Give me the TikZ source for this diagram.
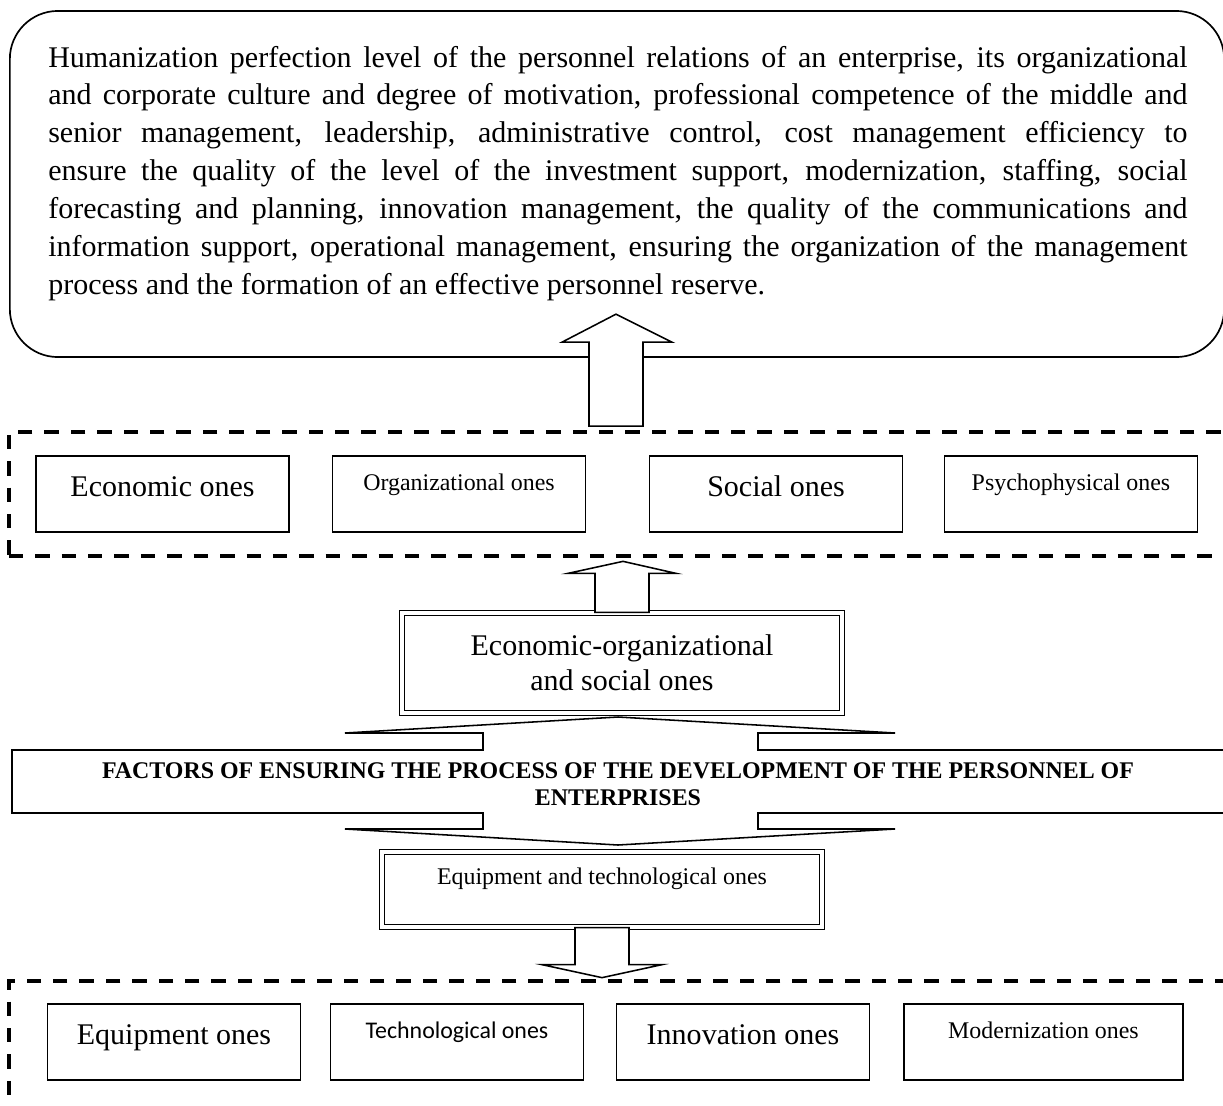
\documentclass[tikz,border=0pt]{standalone}
\usepackage{fontspec}
\setmainfont{Liberation Serif}
\newfontfamily\calibri{Carlito}
\newcommand\grand{\fontsize{21.34}{27}\selectfont}
\newcommand\grandbis{\fontsize{21.34}{24.9}\selectfont}
\newcommand\petite{\fontsize{17}{19.5}\selectfont}

\begin{document}
\begin{tikzpicture}[x=0.025cm, y=-0.025cm,
  every node/.style={inner sep=0pt},%
  facteur/.style={draw, line width=1.1pt, minimum width=6.325cm, minimum height=1.9cm,
    text height=1cm, text depth=0.9cm, font=\grand},%case d'un facteur
  petit/.style={text height=0.85cm, text depth=1.05cm, font=\petite},%texte plus petit
  double cadre/.style={draw, double, double distance=2.4pt, line width=0.9pt},%
  cadre/.style={draw, dash pattern=on 0.36cm off 0.3cm, line width=2.6pt, minimum width=30.425cm},%
  fleche/.style={draw, fill=white, line width=1.1pt}]%fleches pleines
  \useasboundingbox (0,0) rectangle (1223,1105);

  \node[draw, line width=1.2pt, rounded corners=1.2cm, minimum width=30.35cm,
    minimum height=8.65cm] (haut) at (617,184) {};
  \node[anchor=base west, text width=28.475cm, align=justify, font=\grand] (texte) at (48,67)
    {Humanization perfection level of the personnel relations of an enterprise, its organizational\linebreak
     and corporate culture and degree of motivation, professional competence of the middle and\linebreak
     senior management, leadership, administrative control, cost management efficiency to\linebreak
     ensure the quality of the level of the investment support, modernization, staffing, social\linebreak
     forecasting and planning, innovation management, the quality of the communications and\linebreak
     information support, operational management, ensuring the organization of the management\linebreak
     process and the formation of an effective personnel reserve.};

  \node[cadre, minimum height=3.1cm] (groupe1) at (617.5,494) {};
  \node[facteur] (eco) at (162.5,494) {Economic ones};
  \node[facteur, petit] (org) at (459,494) {Organizational ones};
  \node[facteur] (soc) at (776,494) {Social ones};
  \node[facteur, petit] (psy) at (1071,494) {Psychophysical ones};

  \draw[fleche] (groupe1.north) ++(-28.5,-4) -- ++(0,-84) -- ++(-27,0) -- ++(54,-28)
    -- ++(56,28) -- ++(-29,0) -- ++(0,84) -- cycle;

  \node[double cadre, minimum width=11cm, minimum height=2.5cm, align=center,
    font=\grandbis] (ecorg) at (622,663) {Economic-organizational\\and social ones};
  \draw[fleche] (ecorg.north) ++(-27,0) -- ++(0,-39) -- ++(-27,0) -- ++(55,-12)
    -- ++(53,12) -- ++(-27,0) -- ++(0,39) -- cycle;

  % bande centrale
  \draw[fleche] (618,717) -- (895,733) -- (758,733) -- (758,750) -- (1228,750) -- (1228,813)
    -- (758,813) -- (758,829) -- (895,829) -- (618,845) -- (345,829) -- (483,829) -- (483,813)
    -- (12,813) -- (12,750) -- (483,750) -- (483,733) -- (345,733) -- cycle;
  \node[font=\petite\bfseries, align=center] (facteurs) at (618,784)
    {FACTORS OF ENSURING THE PROCESS OF THE DEVELOPMENT OF THE PERSONNEL OF\\ENTERPRISES};

  \node[double cadre, minimum width=11cm, minimum height=1.875cm, text height=0.8cm,
    text depth=1.075cm, font=\petite] (eqtech) at (602,889.5) {Equipment and technological ones};

  \node[cadre, minimum height=3.975cm] (groupe2) at (617.5,1060.5) {};
  \draw[fleche] (eqtech.south) ++(-27,0) -- ++(0,37) -- ++(-33,0) -- ++(60,13)
    -- ++(60,-13) -- ++(-33,0) -- ++(0,-37) -- cycle;
  \node[facteur] (equ) at (174,1042) {Equipment ones};
  \node[facteur, petit, font=\petite\calibri] (tech) at (457,1042) {Technological ones};
  \node[facteur] (inno) at (743,1042) {Innovation ones};
  \node[facteur, petit, minimum width=6.975cm] (moder) at (1043.5,1042) {Modernization ones};

\end{tikzpicture}
\end{document}
